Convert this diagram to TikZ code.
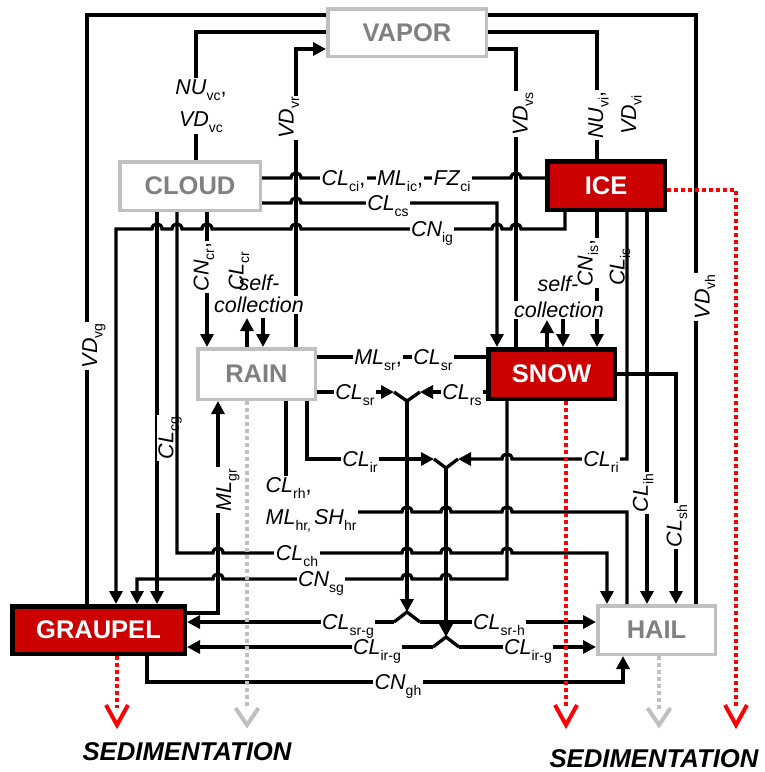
\documentclass[tikz,border=0pt]{standalone}
\usepackage{fontspec}
\setmainfont{Liberation Sans}
\usetikzlibrary{arrows.meta}
\definecolor{boxred}{HTML}{CC0000}
\definecolor{boxgray}{HTML}{C0C0C0}
\definecolor{txtgray}{HTML}{808080}
\definecolor{sedred}{HTML}{FF0000}
\definecolor{sedgray}{HTML}{C0C0C0}
\newcommand\lb[2]{\textit{#1}\raisebox{-5.5pt}{\fontsize{14}{14}\selectfont\upshape #2}}
\tikzset{
  ln/.style={line width=3.3pt},
  arr/.style={line width=3.3pt,-{Triangle[length=13pt,width=13pt]}},
  procbox/.style={line width=3.5pt, inner sep=0pt, font=\fontsize{25.5}{26}\selectfont\bfseries},
  graybox/.style={procbox, draw=boxgray, fill=white, text=txtgray},
  redbox/.style={procbox, line width=4.5pt, draw=black, fill=boxred, text=white},
  lab/.style={font=\fontsize{21.5}{32}\selectfont, fill=white, inner sep=1.5pt, anchor=base, yshift=-7.5pt},
  clab/.style={font=\fontsize{21.5}{32}\selectfont, fill=white, inner sep=1.5pt},
  rlab/.style={font=\fontsize{21.5}{33}\selectfont, fill=white, inner sep=1.5pt, rotate=90},
  nlab/.style={font=\fontsize{21.5}{24}\selectfont, inner sep=1pt},
  reddot/.style={draw=sedred, line width=4pt, dash pattern=on 4pt off 3pt},
  graydot/.style={draw=sedgray, line width=3.5pt, dash pattern=on 4pt off 3pt},
  redv/.style={draw=sedred, line width=4pt},
  grayv/.style={draw=sedgray, line width=4pt},
  sedtext/.style={font=\fontsize{25.7}{28}\selectfont\bfseries\itshape, inner sep=0pt}
}
\begin{document}
\begin{tikzpicture}[x=1pt,y=-1pt]
\useasboundingbox (0,0) rectangle (765,772);
% ---------- boxes
\node[graybox, minimum width=158.5pt, minimum height=47.5pt] (vapor) at (407,32.5) {VAPOR};
\node[graybox, minimum width=140.5pt, minimum height=48.5pt] (cloud) at (190,186) {CLOUD};
\node[redbox, minimum width=117.5pt, minimum height=48.5pt] (ice) at (606,185.5) {ICE};
\node[graybox, minimum width=117.5pt, minimum height=50.5pt] (rain) at (256.5,374) {RAIN};
\node[redbox, minimum width=126.5pt, minimum height=49.5pt] (snow) at (551.5,374) {SNOW};
\node[redbox, minimum width=172.5pt, minimum height=47.5pt] (graupel) at (98.5,630) {GRAUPEL};
\node[graybox, minimum width=117.5pt, minimum height=48.5pt] (hail) at (656.5,630) {HAIL};
% two-part label rain -> hail
\node[lab, anchor=base west] (rh1) at (264,485) {\lb{CL}{rh},};
\node[lab, anchor=base west] (rh2) at (264,517) {\lb{ML}{hr,}\hspace{3pt}\lb{SH}{hr}};
% ---------- junction coordinates
\coordinate (ya) at (394,392); \coordinate (yb) at (420,392); \coordinate (yj) at (407,401);
\coordinate (ra) at (394,622); \coordinate (rb) at (420,622); \coordinate (rj) at (407,612);
\coordinate (za) at (434,459); \coordinate (zb) at (458,459); \coordinate (zj) at (446,468);
\coordinate (sa) at (433,647); \coordinate (sb) at (459,647); \coordinate (sj) at (446,637);
\coordinate (rscu) at (247,318); \coordinate (rscd) at (263,318);
\coordinate (sscu) at (547,320); \coordinate (sscd) at (563,318);
% ---------- vapor connectors
\draw[ln] (vapor.west |- 0,15) -- (87,15) -- (graupel.north -| 87,0);
\draw[ln] (vapor.west |- 0,32) -- (196,32) -- (cloud.north -| 196,0);
\draw[arr] (rain.north -| 296,0) -- (296,49) -- (vapor.west |- 0,49);
\draw[ln] (vapor.east |- 0,49) -- (516,49) -- (snow.north -| 516,0);
\draw[ln] (vapor.east |- 0,32) -- (597,32) -- (ice.north -| 597,0);
\draw[ln] (vapor.east |- 0,15) -- (696,15) -- (hail.north -| 696,0);
% ---------- cloud connectors
\draw[ln] (cloud.east |- 0,178) -- (291,178) .. controls (291,171.3) and (301,171.3) .. (301,178)
   -- (511,178) .. controls (511,171.3) and (521,171.3) .. (521,178) -- (ice.west |- 0,178);
\draw[arr] (cloud.east |- 0,203) -- (291,203) .. controls (291,196.3) and (301,196.3) .. (301,203)
   -- (497,203) -- (snow.north -| 497,0);
\draw[arr] (ice.south -| 565,0) -- (565,229) -- (521,229) .. controls (521,222.3) and (511,222.3) .. (511,229)
   -- (502,229) .. controls (502,222.3) and (492,222.3) .. (492,229)
   -- (301,229) .. controls (301,222.3) and (291,222.3) .. (291,229)
   -- (212,229) .. controls (212,222.3) and (202,222.3) .. (202,229)
   -- (182,229) .. controls (182,222.3) and (172,222.3) .. (172,229)
   -- (162,229) .. controls (162,222.3) and (152,222.3) .. (152,229)
   -- (116,229) -- (graupel.north -| 116,0);
\draw[arr] (cloud.south -| 157,0) -- (graupel.north -| 157,0);
\node[rlab] (lcg) at (170,438) {\lb{CL}{cg}};
\draw[arr] (cloud.south -| 177,0) -- (177,553) -- (213,553) .. controls (213,546.3) and (223,546.3) .. (223,553)
   -- (402,553) .. controls (402,546.3) and (412,546.3) .. (412,553)
   -- (441,553) .. controls (441,546.3) and (451,546.3) .. (451,553)
   -- (502,553) .. controls (502,546.3) and (512,546.3) .. (512,553)
   -- (607,553) -- (hail.north -| 607,0);
\draw[arr] (cloud.south -| 207,0) -- (rain.north -| 207,0);
% rain self-collection
\draw[arr] (rain.north -| rscu) -- (rscu);
\draw[arr] (rscd) -- (rain.north -| rscd);
% ---------- ice connectors
\draw[arr] (ice.south -| 597,0) -- (snow.north -| 597,0);
\draw[arr] (ice.south -| 627,0) -- (627,459) -- (512,459) .. controls (512,452.3) and (502,452.3) .. (502,459) -- (zb);
\draw[arr] (ice.south -| 647,0) -- (hail.north -| 647,0);
% snow self-collection
\draw[arr] (snow.north -| sscu) -- (sscu);
\draw[arr] (sscd) -- (snow.north -| sscd);
% ---------- rain / snow exchanges
\draw[ln] (rain.east |- 0,357) -- (snow.west |- 0,357);
\draw[arr] (rain.east |- ya) -- (ya);
\draw[arr] (snow.west |- yb) -- (yb);
\draw[ln] (ya) -- (yj) -- (yb);
\draw[arr] (yj) -- (rj);
\draw[ln] (ra) -- (rj) -- (rb);
\draw[arr] (ra) -- (graupel.east |- ra);
\draw[arr] (rb) -- (hail.west |- rb);
\draw[arr] (rain.south -| 307,0) -- (307,459) -- (za);
\draw[ln] (za) -- (zj) -- (zb);
\draw[arr] (zj) -- (sj);
\draw[ln] (sa) -- (sj) -- (sb);
\draw[arr] (sa) -- (graupel.east |- sa);
\draw[arr] (sb) -- (hail.west |- sb);
\draw[arr] (snow.south -| 507,0) -- (507,579) -- (451,579) .. controls (451,572.3) and (441,572.3) .. (441,579)
   -- (412,579) .. controls (412,572.3) and (402,572.3) .. (402,579)
   -- (223,579) .. controls (223,572.3) and (213,572.3) .. (213,579)
   -- (137,579) -- (graupel.north -| 137,0);
\draw[arr] (snow.east |- 0,374) -- (676,374) -- (hail.north -| 676,0);
\draw[ln] (rain.south -| 286,0) -- (rh1.north -| 286,0);
\draw[ln] (rh2.east |- 0,512) -- (402,512) .. controls (402,505.3) and (412,505.3) .. (412,512)
   -- (441,512) .. controls (441,505.3) and (451,505.3) .. (451,512)
   -- (502,512) .. controls (502,505.3) and (512,505.3) .. (512,512)
   -- (627,512) -- (hail.north -| 627,0);
\draw[arr] (graupel.east |- 0,613) -- (218,613) -- (rain.south -| 218,0);
\draw[arr] (graupel.south -| 147,0) -- (147,682) -- (623,682) -- (hail.south -| 623,0);
% ---------- labels
\node[clab, align=center] (lnuvc) at (201,106) {\lb{NU}{vc},\\\lb{VD}{vc}};
\node[rlab] (lvdvr) at (289,118) {\lb{VD}{vr}};
\node[rlab] (lvdvs) at (523,114) {\lb{VD}{vs}};
\node[rlab, align=center] (lnuvi) at (615,115) {\lb{NU}{vi},\\\lb{VD}{vi}};
\node[rlab] (lvdvh) at (705,297) {\lb{VD}{vh}};
\node[rlab] (lvdvg) at (94,346) {\lb{VD}{vg}};
\node[lab] (lci) at (343.5,178) {\lb{CL}{ci},};
\node[lab] (lic) at (400,178) {\lb{ML}{ic},};
\node[lab] (lfz) at (452,178) {\lb{FZ}{ci}};
\node[lab] (lcs) at (388,203) {\lb{CL}{cs}};
\node[lab] (lig) at (432,229) {\lb{CN}{ig}};
\node[rlab] (lcncr) at (204,267) {\lb{CN}{cr},};
\node[nlab, rotate=90] (lclcr) at (239,271) {\lb{CL}{cr}};
\node[nlab] (rself) at (259,283) {\textit{self-}};
\node[clab] (rcoll) at (259,305) {\textit{collection}};
\node[rlab] (lcnis) at (588,263) {\lb{CN}{is},};
\node[nlab, rotate=90] (lclis) at (620,267) {\lb{CL}{is}};
\node[nlab] (sself) at (558,284) {\textit{self-}};
\node[clab] (scoll) at (559,310) {\textit{collection}};
\node[lab] (lmlsr) at (378,357) {\lb{ML}{sr},};
\node[lab] (lclsr) at (433,357) {\lb{CL}{sr}};
\node[lab] (lsr) at (355,392) {\lb{CL}{sr}};
\node[lab] (lrs) at (462,392) {\lb{CL}{rs}};
\node[lab] (lir) at (360,459) {\lb{CL}{ir}};
\node[lab] (lri) at (601,459) {\lb{CL}{ri}};
\node[rlab] (lmlgr) at (228,490) {\lb{ML}{gr}};
\node[rlab] (lih) at (643,493) {\lb{CL}{ih}};
\node[rlab] (lsh) at (677,526) {\lb{CL}{sh}};
\node[lab] (lch) at (297,553) {\lb{CL}{ch}};
\node[lab] (lsg) at (321,579) {\lb{CN}{sg}};
\node[lab] (lsrg) at (348,622) {\lb{CL}{sr-g}};
\node[lab] (lsrh) at (499,622) {\lb{CL}{sr-h}};
\node[lab] (lirg) at (377,647) {\lb{CL}{ir-g}};
\node[lab] (lirh) at (528,647) {\lb{CL}{ir-g}};
\node[lab] (lgh) at (398,682) {\lb{CN}{gh}};
% ---------- sedimentation
\coordinate (sedg) at (117,725); \coordinate (sedr) at (247,725);
\coordinate (seds) at (566,725); \coordinate (sedh) at (659,725);
\coordinate (sedi) at (736,725);
\draw[reddot] (graupel.south -| sedg) -- (117,708);
\draw[graydot] (rain.south -| sedr) -- (247,709);
\draw[reddot] (snow.south -| seds) -- (566,708);
\draw[graydot] (hail.south -| sedh) -- (659,709);
\draw[reddot] (ice.east |- 0,190) -- (736,190) -- (736,708);
\draw[redv] (106,705) -- (sedg) -- (128,705);
\draw[grayv] (235.5,708) -- (sedr) -- (258.5,708);
\draw[redv] (555,705) -- (seds) -- (577,705);
\draw[grayv] (647.5,708) -- (sedh) -- (670.5,708);
\draw[redv] (725,705) -- (sedi) -- (747,705);
\node[sedtext] (sed1) at (187,752) {SEDIMENTATION};
\node[sedtext] (sed2) at (654,759) {SEDIMENTATION};
\end{tikzpicture}
\end{document}
